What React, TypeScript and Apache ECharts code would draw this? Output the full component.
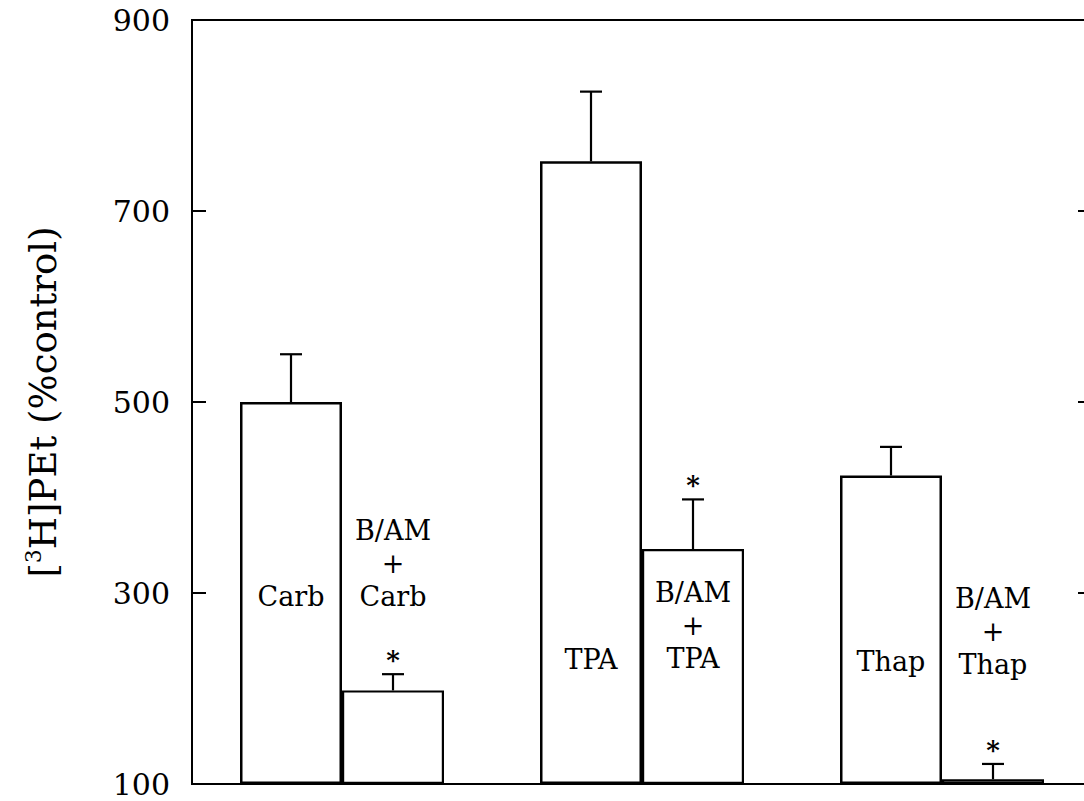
import React, { useEffect, useRef } from "react";
import * as echarts from "echarts";

// Treatment groups and measured [3H]PEt (% of control), mean and SEM
const groups = ["Carb", "TPA", "Thap"];
const agonistMean = [500, 752, 423];
const agonistSem = [50, 73, 30];
const blockedMean = [198, 346, 105];
const blockedSem = [17, 52, 16];
const blockedSignificant = [true, true, true];

// Y values at which the in-plot bar captions sit
const nameLabelAt = [296, 230, 228];
const comboLabelAt = [331, 266, 260];

// Y axis ticks
const yMin = 100;
const yMax = 900;
const yStep = 200;

const SERIF = "DejaVu Serif";
const GAP = 0.32;

export default function App() {
  const ref = useRef<HTMLDivElement>(null);

  useEffect(() => {
    if (!ref.current) return;
    const chart = echarts.init(ref.current, undefined, { renderer: "svg" });

    const errData: number[][] = [];
    groups.forEach((_, i) => {
      errData.push([i, agonistMean[i], agonistMean[i] + agonistSem[i], -1, 0]);
      errData.push([
        i,
        blockedMean[i],
        blockedMean[i] + blockedSem[i],
        1,
        blockedSignificant[i] ? 1 : 0,
      ]);
    });

    const labelData: number[][] = [];
    const labelText: string[] = [];
    groups.forEach((g, i) => {
      labelData.push([i, nameLabelAt[i], -1]);
      labelText.push(g);
      labelData.push([i, comboLabelAt[i], 1]);
      labelText.push(`B/AM\n+\n${g}`);
    });

    const barOffset = (api: any, side: number) => {
      const band = api.size([1, 0])[0];
      const barW = (band * (1 - GAP)) / 2;
      return (side * barW) / 2;
    };

    chart.setOption({
      animation: false,
      backgroundColor: "#fff",
      grid: {
        show: true,
        left: 192,
        top: 20,
        width: 900,
        height: 764,
        outerBoundsMode: "none",
        containLabel: false,
        borderColor: "#000",
        borderWidth: 2,
        backgroundColor: "transparent",
      },
      xAxis: {
        type: "category",
        data: groups,
        axisLine: { show: false },
        axisTick: { show: false },
        axisLabel: { show: false },
        splitLine: { show: false },
      },
      yAxis: [
        {
          type: "value",
          min: yMin,
          max: yMax,
          interval: yStep,
          startValue: yMin,
          position: "left",
          name: "{b|[}{sup|3}{b|H]PEt (%control)}",
          nameLocation: "middle",
          nameRotate: 90,
          nameGap: 128,
          nameTextStyle: {
            fontFamily: SERIF,
            fontSize: 37,
            color: "#000",
            rich: {
              b: { fontFamily: SERIF, fontSize: 37, color: "#000", lineHeight: 42 },
              sup: {
                fontFamily: SERIF,
                fontSize: 22,
                color: "#000",
                verticalAlign: "top",
                lineHeight: 42,
              },
            },
          },
          axisLine: { show: true, lineStyle: { color: "#000", width: 2 } },
          axisTick: { show: true, inside: true, length: 14, lineStyle: { color: "#000", width: 2 } },
          axisLabel: {
            margin: 22,
            fontFamily: SERIF,
            fontSize: 30,
            color: "#000",
          },
          splitLine: { show: false },
        },
        {
          type: "value",
          min: yMin,
          max: yMax,
          interval: yStep,
          position: "right",
          axisLine: { show: true, lineStyle: { color: "#000", width: 2 } },
          axisTick: { show: true, inside: true, length: 14, lineStyle: { color: "#000", width: 2 } },
          axisLabel: { show: false },
          splitLine: { show: false },
        },
      ],
      series: [
        {
          name: "Agonist",
          type: "bar",
          data: agonistMean,
          barGap: "0%",
          barCategoryGap: `${GAP * 100}%`,
          itemStyle: { color: "#fff", borderColor: "#000", borderWidth: 2.5 },
          z: 3,
        },
        {
          name: "B/AM + agonist",
          type: "bar",
          data: blockedMean,
          barGap: "0%",
          barCategoryGap: `${GAP * 100}%`,
          itemStyle: { color: "#fff", borderColor: "#000", borderWidth: 2.2 },
          z: 3,
        },
        {
          name: "SEM",
          type: "custom",
          data: errData,
          encode: { x: 0, y: [1, 2] },
          z: 4,
          renderItem: (params: any, api: any) => {
            const cat = api.value(0);
            const mean = api.value(1);
            const top = api.value(2);
            const side = api.value(3);
            const star = api.value(4);
            const base = api.coord([cat, mean]);
            const tip = api.coord([cat, top]);
            const cx = base[0] + barOffset(api, side);
            const stroke = { stroke: "#000", lineWidth: 2.2 };
            const children: any[] = [
              { type: "line", shape: { x1: cx, y1: base[1], x2: cx, y2: tip[1] }, style: stroke },
              { type: "line", shape: { x1: cx - 11, y1: tip[1], x2: cx + 11, y2: tip[1] }, style: stroke },
            ];
            if (star) {
              children.push({
                type: "text",
                x: cx,
                y: tip[1] - 14,
                style: {
                  text: "*",
                  fill: "#000",
                  fontFamily: SERIF,
                  fontSize: 26,
                  fontWeight: "bold",
                  align: "center",
                  verticalAlign: "middle",
                },
              });
            }
            return { type: "group", children };
          },
        },
        {
          name: "Captions",
          type: "custom",
          data: labelData,
          encode: { x: 0, y: 1 },
          z: 5,
          renderItem: (params: any, api: any) => {
            const cat = api.value(0);
            const val = api.value(1);
            const side = api.value(2);
            const p = api.coord([cat, val]);
            return {
              type: "text",
              x: p[0] + barOffset(api, side),
              y: p[1],
              style: {
                text: labelText[params.dataIndex],
                fill: "#000",
                fontFamily: SERIF,
                fontSize: 27,
                lineHeight: 33,
                align: "center",
                verticalAlign: "middle",
              },
            };
          },
        },
      ],
    });

    return () => chart.dispose();
  }, []);

  return (
    <div
      style={{
        position: "absolute",
        left: 0,
        top: 0,
        width: 1084,
        height: 801,
        overflow: "hidden",
        background: "#fff",
      }}
    >
      <div ref={ref} style={{ width: 1110, height: 801 }} />
    </div>
  );
}
